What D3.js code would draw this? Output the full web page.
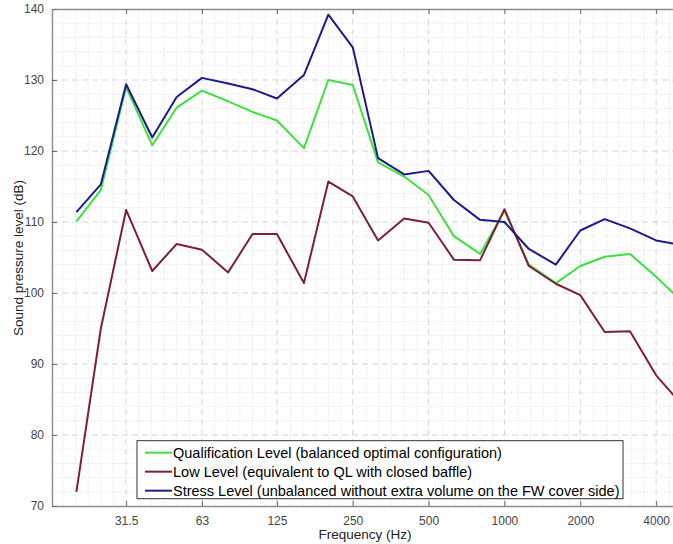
<!DOCTYPE html>
<html lang="en">
<head>
<meta charset="UTF-8">
<title>Sound pressure level</title>
<script src="https://d3js.org/d3.v7.min.js"></script>
<style>
    html, body {
        margin: 0;
        padding: 0;
        background: #fff;
        overflow: hidden;
    }
    svg {
        display: block;
        font-family: 'Liberation Sans', Arial, Helvetica, sans-serif;
    }
    .tick-label {
        font-size: 12px;
        fill: #444;
    }
    .axis-title {
        font-size: 13.5px;
        fill: #222;
    }
    .legend-text {
        font-size: 14.5px;
        fill: #000;
    }
</style>
</head>
<body>
<svg id="chart" width="720" height="544"></svg>
<script>
    // 1/3 octave band centre frequencies (Hz)
    const freqs = [20, 25, 31.5, 40, 50, 63, 80, 100, 125, 160, 200, 250, 315, 400,
        500, 630, 800, 1000, 1250, 1600, 2000, 2500, 3150, 4000, 5000];

    const qualification = [110.1, 114.5, 129.0, 120.8, 126.1, 128.5, 127.0, 125.5, 124.3, 120.4,
        130.0, 129.3, 118.4, 116.4, 113.8, 108.0, 105.5, 111.6, 104.0, 101.4,
        103.8, 105.1, 105.5, 102.3, 99.0];

    const lowLevel = [72.0, 95.0, 111.7, 103.1, 106.9, 106.1, 102.9, 108.3, 108.3, 101.4,
        115.7, 113.6, 107.4, 110.5, 109.9, 104.7, 104.6, 111.8, 103.8, 101.3,
        99.7, 94.5, 94.6, 88.4, 84.5];

    const stressLevel = [111.4, 115.3, 129.4, 121.9, 127.6, 130.3, 129.5, 128.7, 127.4, 130.7,
        139.2, 134.6, 119.0, 116.7, 117.2, 113.1, 110.3, 110.0, 106.2, 104.0,
        108.8, 110.4, 109.1, 107.4, 106.8];

    const xTicks = [31.5, 63, 125, 250, 500, 1000, 2000, 4000];
    const xTickLabels = ['31.5', '63', '125', '250', '500', '1000', '2000', '4000'];
    const yTicks = [70, 80, 90, 100, 110, 120, 130, 140];

    const series = [
        { name: 'Qualification Level (balanced optimal configuration)', values: qualification, color: '#3ee03e' },
        { name: 'Low Level (equivalent to QL with closed baffle)', values: lowLevel, color: '#7e1f3a' },
        { name: 'Stress Level (unbalanced without extra volume on the FW cover side)', values: stressLevel, color: '#1b1b8c' }
    ];

    const svg = d3.select('#chart');
    const margin = { top: 9, left: 52, bottom: 38 };
    const octave = 75.84;             // px per octave
    const fMin = 16, fMax = 6300;     // right part of the axes lies outside the window
    const plotW = octave * Math.log2(fMax / fMin);
    const plotH = 544 - margin.top - margin.bottom;

    const x = d3.scaleLog().domain([fMin, fMax]).range([0, plotW]);
    const y = d3.scaleLinear().domain([70, 140]).range([plotH, 0]);

    const g = svg.append('g')
        .attr('transform', `translate(${margin.left},${margin.top})`);

    // minor grid
    const minorX = [];
    for (let k = -12; k <= 60; k++) {
        const f = 31.5 * Math.pow(2, k / 6);
        if (k % 6 !== 0 && f > fMin && f < fMax) minorX.push(f);
    }
    const minorY = d3.range(72, 140, 2).filter(v => v % 10 !== 0);

    g.append('g').selectAll('line')
        .data(minorX).enter().append('line')
        .attr('x1', d => x(d)).attr('x2', d => x(d))
        .attr('y1', 0).attr('y2', plotH)
        .attr('stroke', '#e6e6e6').attr('stroke-dasharray', '1.5,1.5');

    g.append('g').selectAll('line')
        .data(minorY).enter().append('line')
        .attr('x1', 0).attr('x2', plotW)
        .attr('y1', d => y(d)).attr('y2', d => y(d))
        .attr('stroke', '#e6e6e6').attr('stroke-dasharray', '1.5,1.5');

    // major grid
    g.append('g').selectAll('line')
        .data(xTicks).enter().append('line')
        .attr('x1', d => x(d)).attr('x2', d => x(d))
        .attr('y1', 0).attr('y2', plotH)
        .attr('stroke', '#d6d6d6').attr('stroke-dasharray', '6,4');

    g.append('g').selectAll('line')
        .data(yTicks.slice(1, -1)).enter().append('line')
        .attr('x1', 0).attr('x2', plotW)
        .attr('y1', d => y(d)).attr('y2', d => y(d))
        .attr('stroke', '#d6d6d6').attr('stroke-dasharray', '6,4');

    // axes (inward ticks, box on)
    const bottomAxis = g.append('g')
        .attr('transform', `translate(0,${plotH})`)
        .call(d3.axisBottom(x).tickValues(xTicks)
            .tickFormat((d, i) => xTickLabels[i])
            .tickSizeInner(-5).tickSizeOuter(0).tickPadding(10));

    const topAxis = g.append('g')
        .call(d3.axisTop(x).tickValues(xTicks).tickFormat('')
            .tickSizeInner(-5).tickSizeOuter(0));

    const leftAxis = g.append('g')
        .call(d3.axisLeft(y).tickValues(yTicks)
            .tickSizeInner(-5).tickSizeOuter(0).tickPadding(8));

    [bottomAxis, topAxis, leftAxis].forEach(a => {
        a.select('.domain').attr('stroke', '#8c8c8c').attr('stroke-width', 1.4);
        a.selectAll('.tick line').attr('stroke', '#6e6e6e');
        a.selectAll('.tick text').attr('class', 'tick-label').attr('font-size', null).attr('font-family', null);
    });

    // lines
    const line = d3.line()
        .x((d, i) => x(freqs[i]))
        .y(d => y(d));

    g.append('defs').append('clipPath').attr('id', 'plot-clip')
        .append('rect').attr('width', plotW).attr('height', plotH);

    g.append('g').attr('clip-path', 'url(#plot-clip)')
        .selectAll('path')
        .data(series).enter().append('path')
        .attr('d', d => line(d.values))
        .attr('fill', 'none')
        .attr('stroke', d => d.color)
        .attr('stroke-width', 2)
        .attr('stroke-linejoin', 'round');

    // legend
    const legend = g.append('g')
        .attr('transform', `translate(85,${y(79.2)})`);

    legend.append('rect')
        .attr('width', 486).attr('height', 58)
        .attr('fill', '#fff')
        .attr('stroke', '#333').attr('stroke-width', 1);

    const rows = legend.selectAll('g.row')
        .data(series).enter().append('g')
        .attr('transform', (d, i) => `translate(0,${12 + i * 19})`);

    rows.append('line')
        .attr('x1', 8).attr('x2', 35)
        .attr('stroke', d => d.color).attr('stroke-width', 2);

    rows.append('text')
        .attr('class', 'legend-text')
        .attr('x', 36).attr('dy', '0.36em')
        .text(d => d.name);

    // axis titles
    svg.append('text')
        .attr('class', 'axis-title')
        .attr('x', 365).attr('y', 539)
        .attr('text-anchor', 'middle')
        .text('Frequency (Hz)');

    svg.append('text')
        .attr('class', 'axis-title')
        .attr('transform', 'translate(23,258) rotate(-90)')
        .attr('text-anchor', 'middle')
        .text('Sound pressure level (dB)');
</script>
</body>
</html>
